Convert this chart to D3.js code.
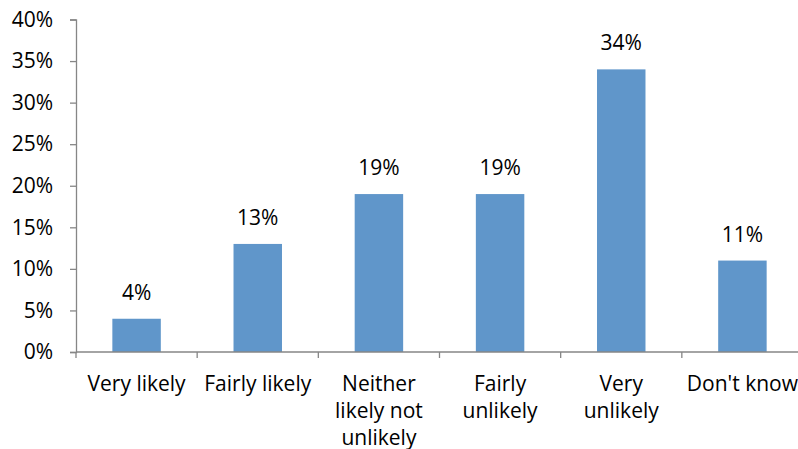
<!DOCTYPE html>
<html><head><meta charset="utf-8">
<script src="https://cdn.jsdelivr.net/npm/d3@7"></script>
<style>body{margin:0;background:#fff;} svg{display:block;} text{font-family:"Open Sans", sans-serif;fill:#000;}</style>
</head><body><svg id="c" width="798" height="449"></svg>
<script>
const categories = [["Very likely"],["Fairly likely"],["Neither","likely not","unlikely"],["Fairly","unlikely"],["Very","unlikely"],["Don't know"]];
const values = [4, 13, 19, 19, 34, 11];
const yTicks = [0, 5, 10, 15, 20, 25, 30, 35, 40];

(function(){
const svg = d3.select("#c");
const pLeft = 76, pRight = 803, pTop = 19.5, pBottom = 352;
const x = d3.scaleBand().domain(d3.range(categories.length)).range([pLeft, pRight]).padding(0);
const y = d3.scaleLinear().domain([0, 40]).range([pBottom, pTop]);
const axisColor = "#868686";
const fs = 21;
const ff = "'Open Sans', sans-serif";

// bars
svg.selectAll("rect.bar").data(values).enter().append("rect")
  .attr("x", (d,i) => x(i) + x.bandwidth()*0.3)
  .attr("width", x.bandwidth()*0.4)
  .attr("y", d => y(d))
  .attr("height", d => y(0) - y(d))
  .attr("fill", "#6096CA");

// data labels
svg.selectAll("text.val").data(values).enter().append("text")
  .attr("x", (d,i) => x(i) + x.bandwidth()/2)
  .attr("y", d => y(d) - 19)
  .attr("text-anchor", "middle")
  .attr("font-size", fs)
  .text(d => d + "%");

// y axis
const ya = svg.append("g").attr("transform", `translate(${pLeft},0)`)
  .call(d3.axisLeft(y).tickValues(yTicks).tickSize(6).tickPadding(17).tickFormat(d => d + "%"));
ya.select(".domain").attr("stroke", axisColor).attr("stroke-width", 1.3);
ya.selectAll(".tick line").attr("stroke", axisColor).attr("stroke-width", 1.3);
ya.selectAll(".tick text").attr("font-size", fs).attr("font-family", ff).attr("fill", "#000");

// x axis
const xa = svg.append("g").attr("transform", `translate(0,${pBottom})`);
xa.append("line").attr("x1", pLeft).attr("x2", pRight).attr("y1", 0).attr("y2", 0)
  .attr("stroke", axisColor).attr("stroke-width", 1.3);
const bounds = d3.range(categories.length + 1).map(i => pLeft + i * x.step());
xa.selectAll("line.tk").data(bounds).enter().append("line")
  .attr("x1", d => d).attr("x2", d => d).attr("y1", 0).attr("y2", 6)
  .attr("stroke", axisColor).attr("stroke-width", 1.3);
categories.forEach((lines, i) => {
  const t = xa.append("text").attr("text-anchor", "middle").attr("font-size", fs)
    .attr("x", x(i) + x.bandwidth()/2).attr("y", 38.5);
  lines.forEach((l, j) => t.append("tspan").attr("x", x(i) + x.bandwidth()/2).attr("dy", j === 0 ? 0 : 27).text(l));
});
})();
</script></body></html>
